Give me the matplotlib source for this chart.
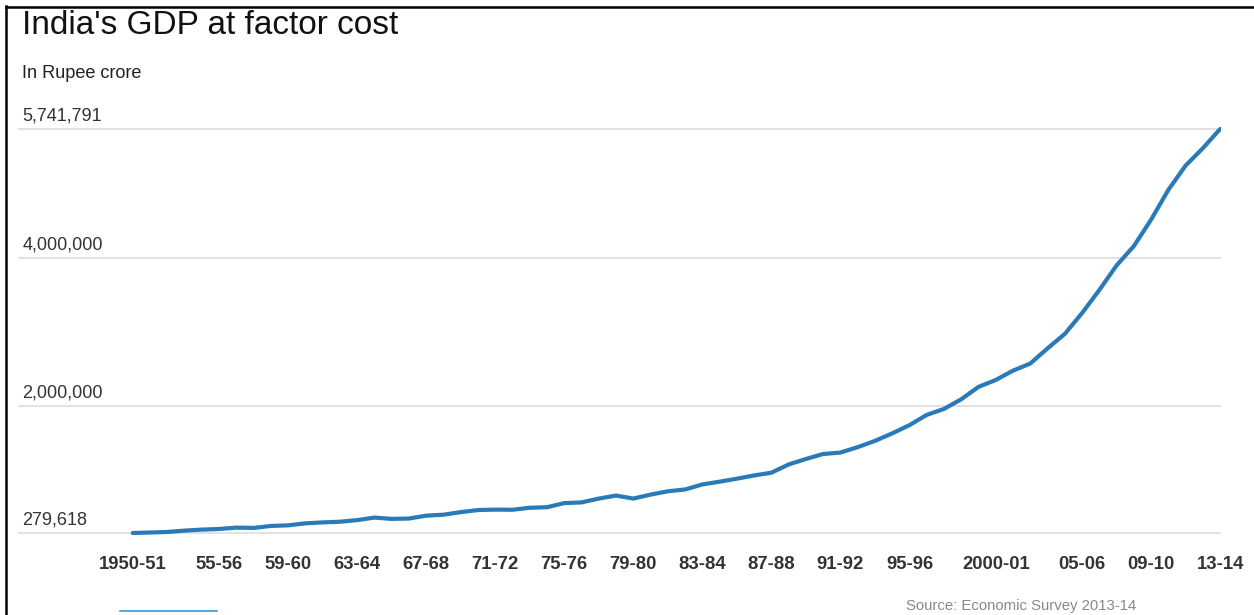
import matplotlib.pyplot as plt
from matplotlib.lines import Line2D

plt.rcParams['font.family'] = ['Liberation Sans', 'DejaVu Sans']

# GDP at factor cost, Rs crore, 1950-51 .. 2013-14
start_years = list(range(1950, 2014))
gdp = [
    279618, 286147, 293426, 311965, 325431, 333766, 352766, 348500, 374948, 383153,
    410279, 423011, 431960, 453829, 488247, 470402, 475190, 513860, 527270, 561630,
    589787, 595741, 593843, 620872, 628079, 683936, 693191, 744972, 785965, 745083,
    798506, 843426, 868092, 936270, 973357, 1013866, 1057612, 1094993, 1206243, 1280228,
    1347889, 1367171, 1440504, 1524932, 1626271, 1737741, 1876319, 1957032, 2087828, 2254942,
    2348481, 2474962, 2570935, 2775749, 2971464, 3253073, 3564364, 3896636, 4158676, 4516071,
    4918533, 5247530, 5482111, 5741791,
]
tick_years = [1950, 1955, 1959, 1963, 1967, 1971, 1975, 1979, 1983, 1987,
              1991, 1995, 2000, 2005, 2009, 2013]
tick_labels = ["1950-51", "55-56", "59-60", "63-64", "67-68", "71-72", "75-76", "79-80",
               "83-84", "87-88", "91-92", "95-96", "2000-01", "05-06", "09-10", "13-14"]
y_ticks = [279618, 2000000, 4000000, 5741791]
y_tick_labels = ["279,618", "2,000,000", "4,000,000", "5,741,791"]

fig = plt.figure(figsize=(12.54, 6.15), dpi=100)
ax = fig.add_axes([18 / 1254, 1 - 540 / 615, (1221 - 18) / 1254, 420 / 615])

x = list(range(len(gdp)))
ax.plot(x, gdp, color="#2a7ab8", linewidth=3.0, solid_capstyle="round",
        solid_joinstyle="round", zorder=3)

ax.set_xlim(-6.65, 63.05)
ax.set_ylim(184978, 5863378)

# gridlines only at the labelled values
ax.set_yticks(y_ticks)
ax.set_yticklabels([])
ax.tick_params(axis="y", length=0)
ax.grid(axis="y", color="#dddddd", linewidth=1.2)
ax.set_axisbelow(True)

for v, lab in zip(y_ticks, y_tick_labels):
    ax.annotate(lab, xy=(0, v), xycoords=("axes fraction", "data"),
                xytext=(3, 6), textcoords="offset points",
                ha="left", va="baseline", fontsize=13, color="#333333")

ax.set_xticks([start_years.index(y) for y in tick_years])
ax.set_xticklabels(tick_labels, fontsize=13.3, fontweight="bold", color="#333333")
ax.tick_params(axis="x", length=0, pad=11.5)

for s in ax.spines.values():
    s.set_visible(False)

fig.text(22 / 1254, 1 - 34 / 615, "India's GDP at factor cost", fontsize=24,
         color="#111111", ha="left", va="baseline")
fig.text(22 / 1254, 1 - 78 / 615, "In Rupee crore", fontsize=13.1,
         color="#222222", ha="left", va="baseline")
fig.text(1136 / 1254, 1 - 610 / 615, "Source: Economic Survey 2013-14", fontsize=10.7,
         color="#888888", ha="right", va="baseline")

# frame edges of the screenshot and the stray link underline
fig.add_artist(Line2D([6 / 1254, 6 / 1254], [0, 1 - 6 / 615], transform=fig.transFigure,
                      color="black", linewidth=1.8))
fig.add_artist(Line2D([6 / 1254, 1], [1 - 7 / 615, 1 - 7 / 615], transform=fig.transFigure,
                      color="black", linewidth=1.8))
fig.add_artist(Line2D([120 / 1254, 217 / 1254], [1 - 611 / 615, 1 - 611 / 615],
                      transform=fig.transFigure, color="#3399dd", linewidth=1.2))

fig.savefig("out.png", dpi=100)
